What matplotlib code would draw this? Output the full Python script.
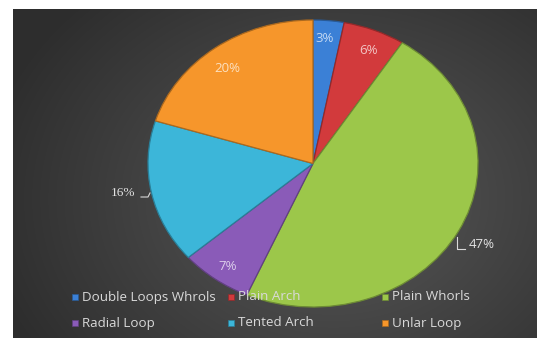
import numpy as np
import matplotlib
matplotlib.use("Agg")
import matplotlib.pyplot as plt
from matplotlib.patches import Rectangle
from matplotlib.colors import to_rgb

W, H = 537, 338

categories = ["Double Loops Whrols", "Plain Arch", "Plain Whorls",
              "Radial Loop", "Tented Arch", "Unlar Loop"]
shares = [3, 6, 47, 7, 16, 20]
colors = ["#3b80d6", "#d23a3c", "#9cc74a", "#8a5bb8", "#3cb6d9", "#f6962b"]

# label anchor points in pixels (x from left, y from top)
label_pos = [(325, 39), (368, 51), (482, 244), (228, 267), (123, 193), (227, 68)]
label_fonts = ["Open Sans", "Open Sans", "Open Sans", "Open Sans",
               "Liberation Serif", "Open Sans"]
label_inside = [True, True, False, True, False, True]


def fx(px):
    return px / W


def fy(py):
    return 1 - py / H


def shade(c, f):
    r, g, b = to_rgb(c)
    return (r * f, g * f, b * f)


def tint(c, f):
    r, g, b = to_rgb(c)
    return (r + (1 - r) * f, g + (1 - g) * f, b + (1 - b) * f)


fig = plt.figure(figsize=(W / 100, H / 100), dpi=100)
fig.patch.set_facecolor("white")

# dark panel with a soft radial glow
bg = fig.add_axes([fx(13), 0, fx(W) - fx(13), fy(9)])
bg.set_axis_off()
yy, xx = np.mgrid[0:330, 0:524]
d = np.sqrt(((xx - 320) / 330.0) ** 2 + ((yy - 190) / 260.0) ** 2)
val = np.clip(0.35 - 0.16 * d, 0.18, 0.35)
img = np.dstack([val, val, val])
bg.imshow(img, aspect="auto", extent=[0, 1, 0, 1], interpolation="bilinear")
bg.set_xlim(0, 1)
bg.set_ylim(0, 1)

# pie axes: centre (313, 163.5), radii 165 x 143.5 px
cx, cy, rx, ry = 313, 163.5, 165, 143.5
ax = fig.add_axes([fx(cx - rx), fy(cy + ry), 2 * rx / W, 2 * ry / H])
ax.set_axis_off()
wedges, _ = ax.pie(shares, colors=colors, startangle=90, counterclock=False,
                   radius=1.0, normalize=True,
                   wedgeprops=dict(linewidth=0.9))
for w, c in zip(wedges, colors):
    w.set_edgecolor(shade(c, 0.7))
ax.set_aspect("auto")
ax.set_xlim(-1, 1)
ax.set_ylim(-1, 1)

# percentage labels
for (px, py), v, c, fam, inside in zip(label_pos, shares, colors,
                                        label_fonts, label_inside):
    col = tint(c, 0.7) if inside else "#e3e3e3"
    fig.text(fx(px), fy(py), f"{v}%", ha="center", va="center",
             fontsize=9.5, color=col, family=fam, zorder=5)

# leader lines
fig.add_artist(plt.Line2D([fx(457), fx(457), fx(465)], [fy(237), fy(249), fy(249)],
                          color="#d9d9d9", lw=0.8))
fig.add_artist(plt.Line2D([fx(141), fx(148), fx(150)], [fy(197), fy(197), fy(193)],
                          color="#d9d9d9", lw=0.8))

# legend grid
col_x = [72, 228, 382]
row_y = [297, 323]
for i, (name, c) in enumerate(zip(categories, colors)):
    r, k = divmod(i, 3)
    mx, my = col_x[k], row_y[r]
    fig.add_artist(Rectangle((fx(mx), fy(my + 3)), 6 / W, 6 / H,
                             facecolor=c, edgecolor=shade(c, 0.7), lw=0.5,
                             transform=fig.transFigure, zorder=6))
    fig.text(fx(mx + 10), fy(my), name, ha="left", va="center",
             fontsize=9.6, color="#d9d9d9", family="Open Sans", zorder=6)

fig.savefig("out.png", dpi=100, facecolor=fig.get_facecolor())
